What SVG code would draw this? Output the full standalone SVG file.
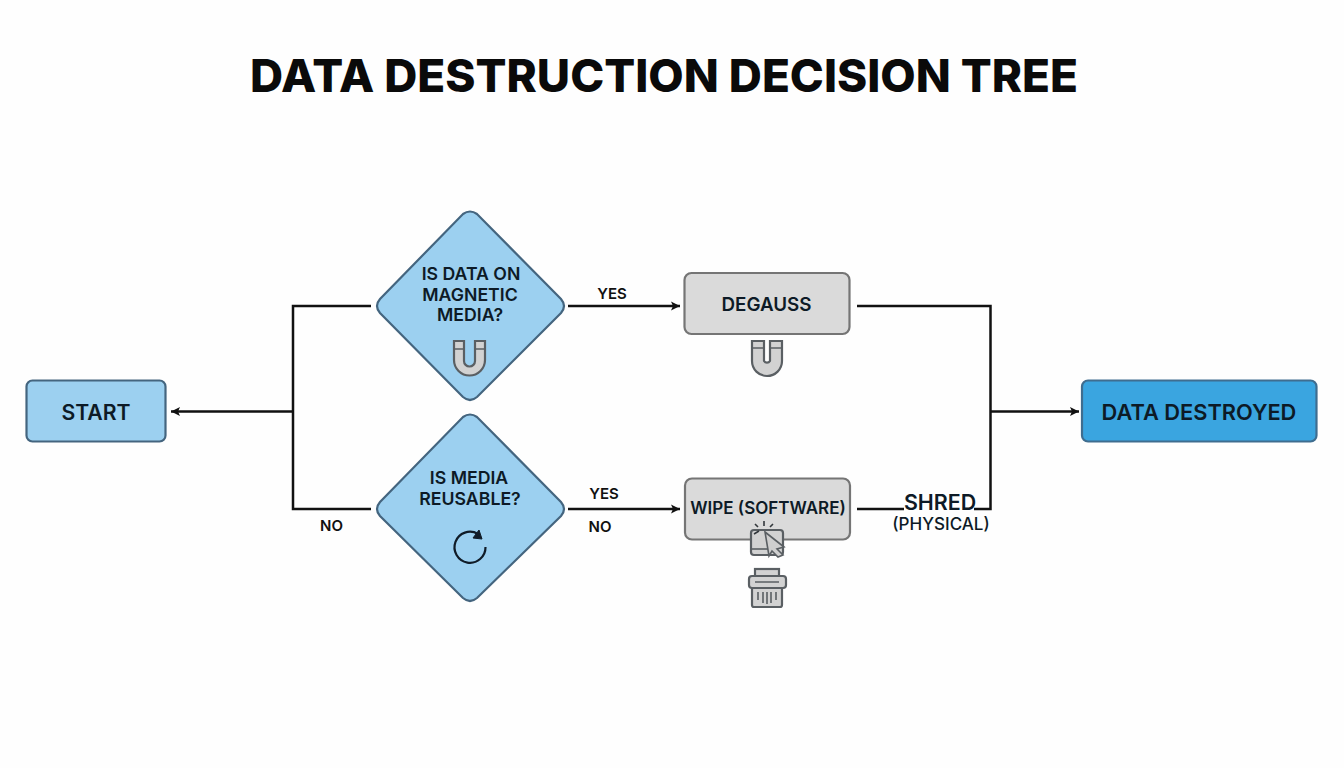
<svg xmlns="http://www.w3.org/2000/svg" width="1344" height="768" viewBox="0 0 1344 768">
<style>
text{font-family:"Inter","Liberation Sans",sans-serif;font-weight:600;fill:#0d1a26;text-anchor:middle}
.l{font-size:15px;fill:#111}
.d{font-size:17.700px}
.c{fill:none;stroke:#111;stroke-width:2.500}
.blue{fill:#9cd0f0;stroke:#44657f;stroke-width:2.200}
.gray{fill:#dadada;stroke:#757575;stroke-width:2.200}
.ic{fill:#d2d2d2;stroke:#5a5f63;stroke-width:2.200}
.icl{fill:none;stroke:#5a5f63;stroke-width:1.600}
</style>
<defs>
<marker id="a" markerWidth="12" markerHeight="12" refX="9" refY="5" orient="auto" markerUnits="userSpaceOnUse"><path d="M0 0.500L9 5L0 9.500L2 5Z" fill="#111"/></marker>
</defs>
<rect width="1344" height="768" fill="#fefefe"/>
<text id="title" x="664" y="92" textLength="828" lengthAdjust="spacingAndGlyphs" style="font-size:45.500px;font-weight:800;fill:#0a0a0a">DATA DESTRUCTION DECISION TREE</text>
<g id="connectors">
<path class="c" d="M371 306H293V509H371"/>
<path class="c" d="M293 411.500H171" marker-end="url(#a)"/>
<path class="c" d="M568 306H680" marker-end="url(#a)"/>
<path class="c" d="M568 509H680" marker-end="url(#a)"/>
<path class="c" d="M857 306H990.500V509H974"/>
<path class="c" d="M857 509H904"/>
<path class="c" d="M990 411.500H1079" marker-end="url(#a)"/>
</g>
<g id="labels">
<text class="l" x="612" y="299">YES</text>
<text class="l" x="604" y="499">YES</text>
<text class="l" x="600" y="532">NO</text>
<text class="l" x="331.500" y="531">NO</text>
</g>
<g id="start"><rect class="blue" x="26.500" y="380.500" width="139" height="61" rx="6"/><text x="96" y="419.500" style="font-size:21.200px">START</text></g>
<g id="decision-magnetic">
<path class="blue" d="M463 214Q470 209 477 214L561 299Q567 306 561 313L477 397Q470 403 463 397L380 313Q374 306 380 299Z"/>
<text class="d" x="471" y="280">IS DATA ON</text>
<text class="d" x="470" y="301">MAGNETIC</text>
<text class="d" x="470" y="321">MEDIA?</text>
<path class="ic" d="M454 341H464V361A5.500 5.500 0 0 0 475 361V341H485V360A15.500 15.500 0 0 1 454 360Z"/>
<path class="icl" d="M454 349H464M475 349H485"/>
</g>
<g id="decision-reusable">
<path class="blue" d="M463 417Q470 412 477 417L561 502Q567 509 561 516L477 598Q470 604 463 598L380 516Q374 509 380 502Z"/>
<text class="d" x="469" y="484">IS MEDIA</text>
<text class="d" x="470" y="505">REUSABLE?</text>
<path d="M478 534A15.500 15.500 0 1 0 485.500 547" fill="none" stroke="#101c28" stroke-width="2.200"/>
<path d="M479 530L482 539L473 538Z" fill="#101c28" stroke="#101c28"/>
</g>
<g id="degauss">
<rect class="gray" x="684.500" y="273" width="165" height="61" rx="7"/>
<text x="766.500" y="311" style="font-size:18.800px">DEGAUSS</text>
<path class="ic" d="M752 341H764V361A3.500 3.500 0 0 0 770 361V341H782V361A15 15 0 0 1 752 361Z"/>
<path class="icl" d="M752 348H764M770 348H782"/>
</g>
<g id="wipe">
<rect class="gray" x="685" y="478.500" width="165" height="61" rx="7"/>
<text x="768" y="513.500" style="font-size:17px">WIPE (SOFTWARE)</text>
<rect class="ic" x="751" y="530" width="32" height="25" rx="3"/>
<path class="icl" d="M751 549H768"/>
<path d="M765 532L784 547L777 549L783 555L778 557L772 551L769 556Z" fill="#cfcfcf" stroke="#5a5f63" stroke-width="1.600"/>
<path d="M758 527L755 524M764 526V521M770 527L773 524M759 531L754 534" fill="none" stroke="#33383c" stroke-width="1.600"/>
</g>
<g id="shred">
<text x="940" y="510" style="font-size:21.400px">SHRED</text>
<text x="941" y="530" style="font-size:17px;font-weight:500">(PHYSICAL)</text>
<rect class="ic" x="755" y="569" width="24" height="9"/>
<rect class="ic" x="749" y="576" width="37" height="12" rx="3"/>
<path class="ic" d="M752 588H782V605A2 2 0 0 1 780 607H754A2 2 0 0 1 752 605Z"/>
<path class="icl" d="M755 582H779M758 592V600M763 592V603M767 592V604M771 592V603M776 592V600"/>
</g>
<g id="destroyed"><rect x="1082" y="380.500" width="234.500" height="61" rx="6" fill="#3aa5e0" stroke="#3f6d8f" stroke-width="2.200"/><text x="1199" y="419.500" style="font-size:21.800px">DATA DESTROYED</text></g>
</svg>
